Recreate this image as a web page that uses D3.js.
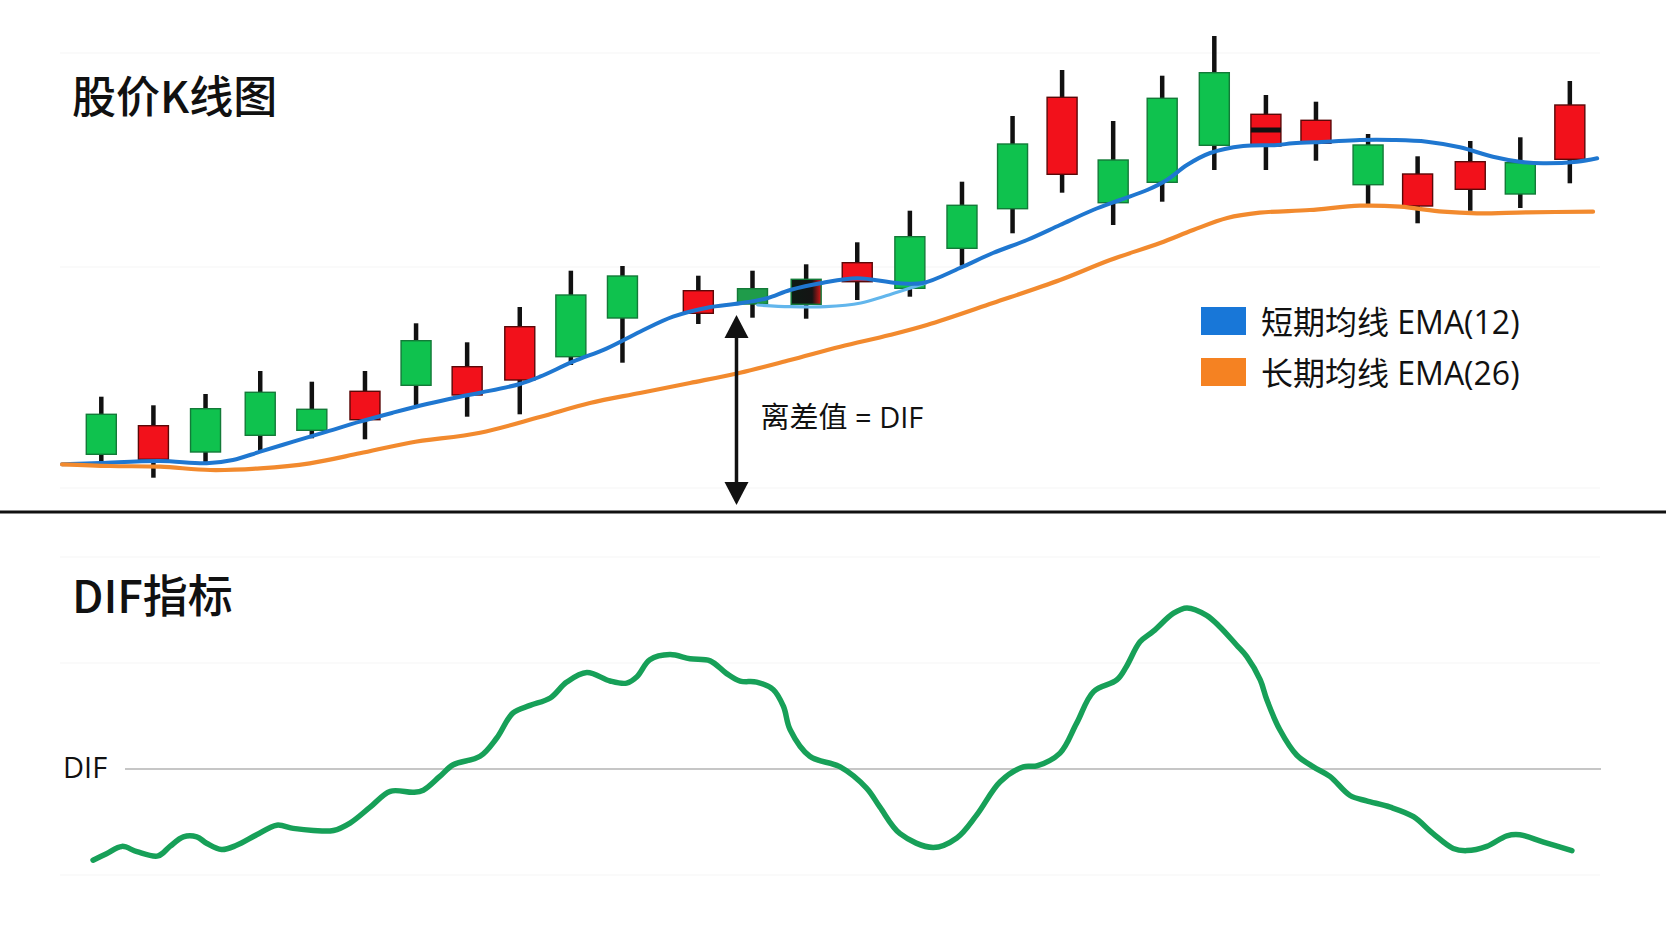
<!DOCTYPE html>
<html>
<head>
<meta charset="utf-8">
<script src="https://cdn.jsdelivr.net/npm/d3@7"></script>
<style>
    body { margin: 0; background: #fff; }
    text { font-family: "Open Sans", "Noto Sans CJK SC", sans-serif; fill: #111; }
</style>
</head>
<body>
<div id="chart"></div>
<script>
// ---- candles (day index, prices) ----
const candleT = [0, 1.01, 2.02, 3.08, 4.08, 5.11, 6.10, 7.09, 8.11, 9.10, 10.10, 11.57, 12.62, 13.66, 14.65,
    15.67, 16.68, 17.66, 18.62, 19.61, 20.56, 21.57, 22.57, 23.54, 24.55, 25.51, 26.53, 27.50, 28.46];
const openP  = [19.77, 15.27, 20.33, 21.97, 20.27, 19.23, 27.13, 21.7, 23.2, 31.7, 33.6, 29.87, 32.33, 33.27, 33.03,
    37.53, 40.67, 46.8, 43.77, 45.2, 51.37, 53.93, 46.6, 46.87, 46.7, 40.6, 42.27, 44.93, 45.27];
const closeP = [15.77, 18.63, 16.0, 17.67, 18.17, 22.07, 22.67, 24.53, 28.53, 25.53, 29.4, 32.13, 30.8, 30.77, 34.93,
    32.37, 36.37, 40.33, 51.47, 40.93, 42.97, 46.67, 49.77, 49.17, 42.73, 43.8, 45.03, 41.8, 50.7];
const highP  = [21.53, 20.67, 21.8, 24.1, 23.03, 24.1, 28.87, 26.97, 30.5, 34.13, 34.6, 33.63, 34.13, 34.77, 36.97,
    40.13, 43.03, 49.6, 54.2, 49.1, 53.63, 57.6, 51.7, 51.03, 47.8, 45.57, 47.1, 47.47, 53.1];
const lowP   = [14.97, 13.43, 14.7, 16.1, 17.37, 17.27, 20.7, 19.53, 19.77, 24.7, 24.93, 28.8, 29.43, 29.33, 31.2,
    31.53, 34.63, 37.87, 41.93, 38.7, 41.03, 44.2, 44.2, 45.13, 40.8, 38.87, 40.13, 40.4, 42.87];
const midMarkT = [22.57];
const midMarkP = [48.2];

// ---- moving averages ----
const emaShortT = [-0.76, -0.03, 1.14, 2.04, 2.55, 3.08, 3.72, 4.37, 5.01, 5.65, 6.31, 6.95, 7.34, 8.11, 8.5, 9.14,
    9.8, 10.44, 11.08, 11.74, 12.38, 12.9, 13.35, 13.99, 14.65, 15.42, 15.92, 16.64, 17.28, 17.94, 18.58, 19.22,
    19.74, 20.27, 20.65, 21.04, 21.49, 22.13, 22.79, 23.09, 23.75, 24.39, 25.03, 25.69, 26.33, 26.97, 27.49, 27.94,
    28.6, 28.99];
const emaShortP = [14.77, 14.9, 15.1, 14.87, 15.2, 16.03, 17.03, 18.03, 19.03, 19.93, 20.8, 21.53, 21.93, 22.8, 23.53,
    25.03, 26.37, 28.03, 29.53, 30.43, 30.87, 31.37, 32.2, 32.93, 33.37, 32.9, 32.9, 34.4, 35.9, 37.2, 38.7, 40.2,
    41.2, 42.2, 43.2, 44.7, 45.9, 46.6, 46.7, 46.87, 47.03, 47.2, 47.2, 47.03, 46.47, 45.53, 45.03, 44.87, 45.03, 45.37];
const ghostT = [12.72, 13.35, 14.04, 14.72, 15.15, 15.56, 15.98];
const ghostP = [30.7, 30.53, 30.53, 30.9, 31.53, 32.2, 32.9];
const emaLongT = [-0.76, 0.17, 1.14, 2.11, 3.08, 4.04, 5.01, 5.98, 7.34, 8.5, 9.47, 10.44, 11.41, 12.38, 13.35, 14.32,
    15.28, 16.0, 17.28, 18.58, 19.55, 20.52, 21.16, 21.82, 22.45, 23.42, 24.39, 25.17, 26.0, 26.66, 27.63, 28.91];
const emaLongP = [14.77, 14.6, 14.53, 14.2, 14.37, 14.87, 15.87, 16.93, 17.93, 19.5, 20.9, 21.9, 22.9, 23.93, 25.2,
    26.53, 27.7, 28.7, 30.9, 33.2, 35.2, 36.9, 38.2, 39.4, 39.93, 40.2, 40.63, 40.53, 40.03, 39.87, 39.97, 40.03];

// ---- DIF ----
const difT = [-0.16, 0.1, 0.4, 0.69, 1.1, 1.33, 1.59, 1.85, 2.04, 2.33, 2.62, 3.01, 3.4, 3.72, 4.11, 4.5, 4.82, 5.21,
    5.6, 6.05, 6.24, 6.56, 6.82, 7.34, 7.66, 7.98, 8.31, 8.7, 9.02, 9.41, 9.86, 10.18, 10.38, 10.63, 11.02, 11.41,
    11.8, 12.12, 12.38, 12.7, 13.02, 13.22, 13.35, 13.73, 14.32, 14.83, 15.09, 15.48, 16.12, 16.58, 16.97, 17.42,
    17.87, 18.13, 18.58, 18.9, 19.23, 19.68, 19.87, 20.13, 20.39, 20.78, 21.04, 21.42, 21.68, 22.0, 22.2, 22.46,
    22.59, 22.84, 23.17, 23.49, 23.81, 24.2, 24.52, 24.98, 25.43, 25.81, 26.2, 26.46, 26.85, 27.24, 27.49, 27.95, 28.5];
const difV = [-0.86, -0.80, -0.73, -0.78, -0.82, -0.73, -0.64, -0.64, -0.70, -0.76, -0.72, -0.62, -0.53, -0.56, -0.58,
    -0.58, -0.51, -0.36, -0.21, -0.22, -0.20, -0.07, 0.04, 0.12, 0.29, 0.53, 0.60, 0.67, 0.82, 0.91, 0.83, 0.81, 0.87,
    1.03, 1.08, 1.04, 1.02, 0.90, 0.83, 0.82, 0.75, 0.59, 0.37, 0.12, 0.02, -0.18, -0.36, -0.61, -0.74, -0.65, -0.43,
    -0.12, 0.02, 0.03, 0.15, 0.43, 0.73, 0.84, 0.97, 1.20, 1.30, 1.47, 1.52, 1.45, 1.34, 1.17, 1.06, 0.84, 0.65, 0.37,
    0.13, 0.02, -0.07, -0.25, -0.30, -0.36, -0.45, -0.61, -0.75, -0.77, -0.73, -0.63, -0.62, -0.69, -0.77];

const priceGrid = [12.4, 34.5, 55.9];
const difGrid = [-1, 1, 2];
const legendLabels = ["短期均线 EMA(12)", "长期均线 EMA(26)"];
const arrowT = 12.31, arrowTop = 29.7, arrowBottom = 10.7;

const width = 1666, height = 937;
const svg = d3.select("#chart").append("svg")
    .attr("width", width)
    .attr("height", height);

const defs = svg.append("defs");
let grad = defs.append("linearGradient").attr("id", "darkBody");
grad.append("stop").attr("offset", "0%").attr("stop-color", "#0e1a14");
grad.append("stop").attr("offset", "70%").attr("stop-color", "#141414");
grad.append("stop").attr("offset", "100%").attr("stop-color", "#d81818");

// scales
const x = d3.scaleLinear().domain([0, 28]).range([101.3, 101.3 + 28 * 51.6]);
const y = d3.scaleLinear().domain([10, 60]).range([512, 12]);
const yDif = d3.scaleLinear().domain([-1, 2]).range([875, 557]);

// very faint grid
svg.append("g").selectAll("line").data(priceGrid).enter().append("line")
    .attr("x1", 60).attr("x2", 1600)
    .attr("y1", d => y(d)).attr("y2", d => y(d))
    .attr("stroke", "#f8f8f8").attr("stroke-width", 1.5);
svg.append("g").selectAll("line").data(difGrid).enter().append("line")
    .attr("x1", 60).attr("x2", 1600)
    .attr("y1", d => yDif(d)).attr("y2", d => yDif(d))
    .attr("stroke", "#f8f8f8").attr("stroke-width", 1.5);

// titles
svg.append("text").attr("x", 72).attr("y", 113)
    .attr("font-size", 44).attr("font-weight", 500)
    .style("font-family", "'Noto Sans CJK SC', sans-serif").text("股价K线图");
svg.append("text").attr("x", 72).attr("y", 613)
    .attr("font-size", 45).attr("font-weight", 500)
    .style("font-family", "'Noto Sans CJK SC', sans-serif").text("DIF指标");

// candles
const candles = candleT.map((t, i) => ({t: t, o: openP[i], c: closeP[i], h: highP[i], l: lowP[i], i: i}));
const bodyOverride = {12: "#1f9c4a", 13: "url(#darkBody)"};
const bodyW = 30;

let cg = svg.append("g");
cg.selectAll(".wick").data(candles).enter().append("line")
    .attr("class", "wick")
    .attr("x1", d => x(d.t)).attr("x2", d => x(d.t))
    .attr("y1", d => y(d.h)).attr("y2", d => y(d.l))
    .attr("stroke", "#111").attr("stroke-width", 4.5);
cg.selectAll(".body").data(candles).enter().append("rect")
    .attr("class", "body")
    .attr("x", d => x(d.t) - bodyW / 2)
    .attr("width", bodyW)
    .attr("y", d => y(Math.max(d.o, d.c)))
    .attr("height", d => Math.abs(y(d.o) - y(d.c)))
    .attr("fill", d => bodyOverride[d.i] || (d.c > d.o ? "#f2111b" : "#0fc24e"))
    .attr("stroke", d => d.c > d.o ? "#5a0808" : "#137a38")
    .attr("stroke-width", 1.4);
cg.selectAll(".mid").data(midMarkT).enter().append("rect")
    .attr("x", d => x(d) - bodyW / 2).attr("width", bodyW)
    .attr("y", (d, i) => y(midMarkP[i]) - 2.5).attr("height", 5)
    .attr("fill", "#111");

// lines
const line = d3.line().x(d => x(d[0])).y(d => y(d[1])).curve(d3.curveCatmullRom.alpha(0.5));
svg.append("path").datum(ghostT.map((t, i) => [t, ghostP[i]]))
    .attr("d", line).attr("fill", "none")
    .attr("stroke", "#62b6ec").attr("stroke-width", 3.2).attr("stroke-linecap", "round");
svg.append("path").datum(emaShortT.map((t, i) => [t, emaShortP[i]]))
    .attr("d", line).attr("fill", "none")
    .attr("stroke", "#1f77d0").attr("stroke-width", 4).attr("stroke-linecap", "round");
svg.append("path").datum(emaLongT.map((t, i) => [t, emaLongP[i]]))
    .attr("d", line).attr("fill", "none")
    .attr("stroke", "#f28a2e").attr("stroke-width", 4.2).attr("stroke-linecap", "round");

// legend
const legendColors = ["#1877d8", "#f58222"];
let legend = svg.append("g").selectAll("g").data(legendLabels).enter().append("g")
    .attr("transform", (d, i) => `translate(1201, ${307 + i * 51})`);
legend.append("rect").attr("width", 45).attr("height", 28).attr("fill", (d, i) => legendColors[i]);
legend.append("text").attr("x", 60).attr("y", 27).attr("font-size", 32).text(d => d);

// arrow
const ax = x(arrowT);
svg.append("line")
    .attr("x1", ax).attr("x2", ax)
    .attr("y1", y(arrowTop) + 20).attr("y2", y(arrowBottom) - 20)
    .attr("stroke", "#111").attr("stroke-width", 3.5);
svg.append("path")
    .attr("d", `M${ax},${y(arrowTop)} L${ax - 12},${y(arrowTop) + 23} L${ax + 12},${y(arrowTop) + 23} Z`)
    .attr("fill", "#111");
svg.append("path")
    .attr("d", `M${ax},${y(arrowBottom)} L${ax - 12},${y(arrowBottom) - 23} L${ax + 12},${y(arrowBottom) - 23} Z`)
    .attr("fill", "#111");
svg.append("text").attr("x", ax + 24).attr("y", 428)
    .attr("font-size", 29).text("离差值 = DIF");

// divider
svg.append("line").attr("x1", 0).attr("x2", width)
    .attr("y1", y(10)).attr("y2", y(10))
    .attr("stroke", "#111").attr("stroke-width", 3);

// DIF panel
svg.append("line").attr("x1", 125).attr("x2", 1601)
    .attr("y1", yDif(0)).attr("y2", yDif(0))
    .attr("stroke", "#c6c6c6").attr("stroke-width", 2);
svg.append("text").attr("x", 63).attr("y", 778)
    .attr("font-size", 29).text("DIF");

const difLine = d3.line().x(d => x(d[0])).y(d => yDif(d[1])).curve(d3.curveCatmullRom.alpha(0.5));
svg.append("path").datum(difT.map((t, i) => [t, difV[i]]))
    .attr("d", difLine).attr("fill", "none")
    .attr("stroke", "#17a058").attr("stroke-width", 5.5)
    .attr("stroke-linecap", "round").attr("stroke-linejoin", "round");
</script>
</body>
</html>
